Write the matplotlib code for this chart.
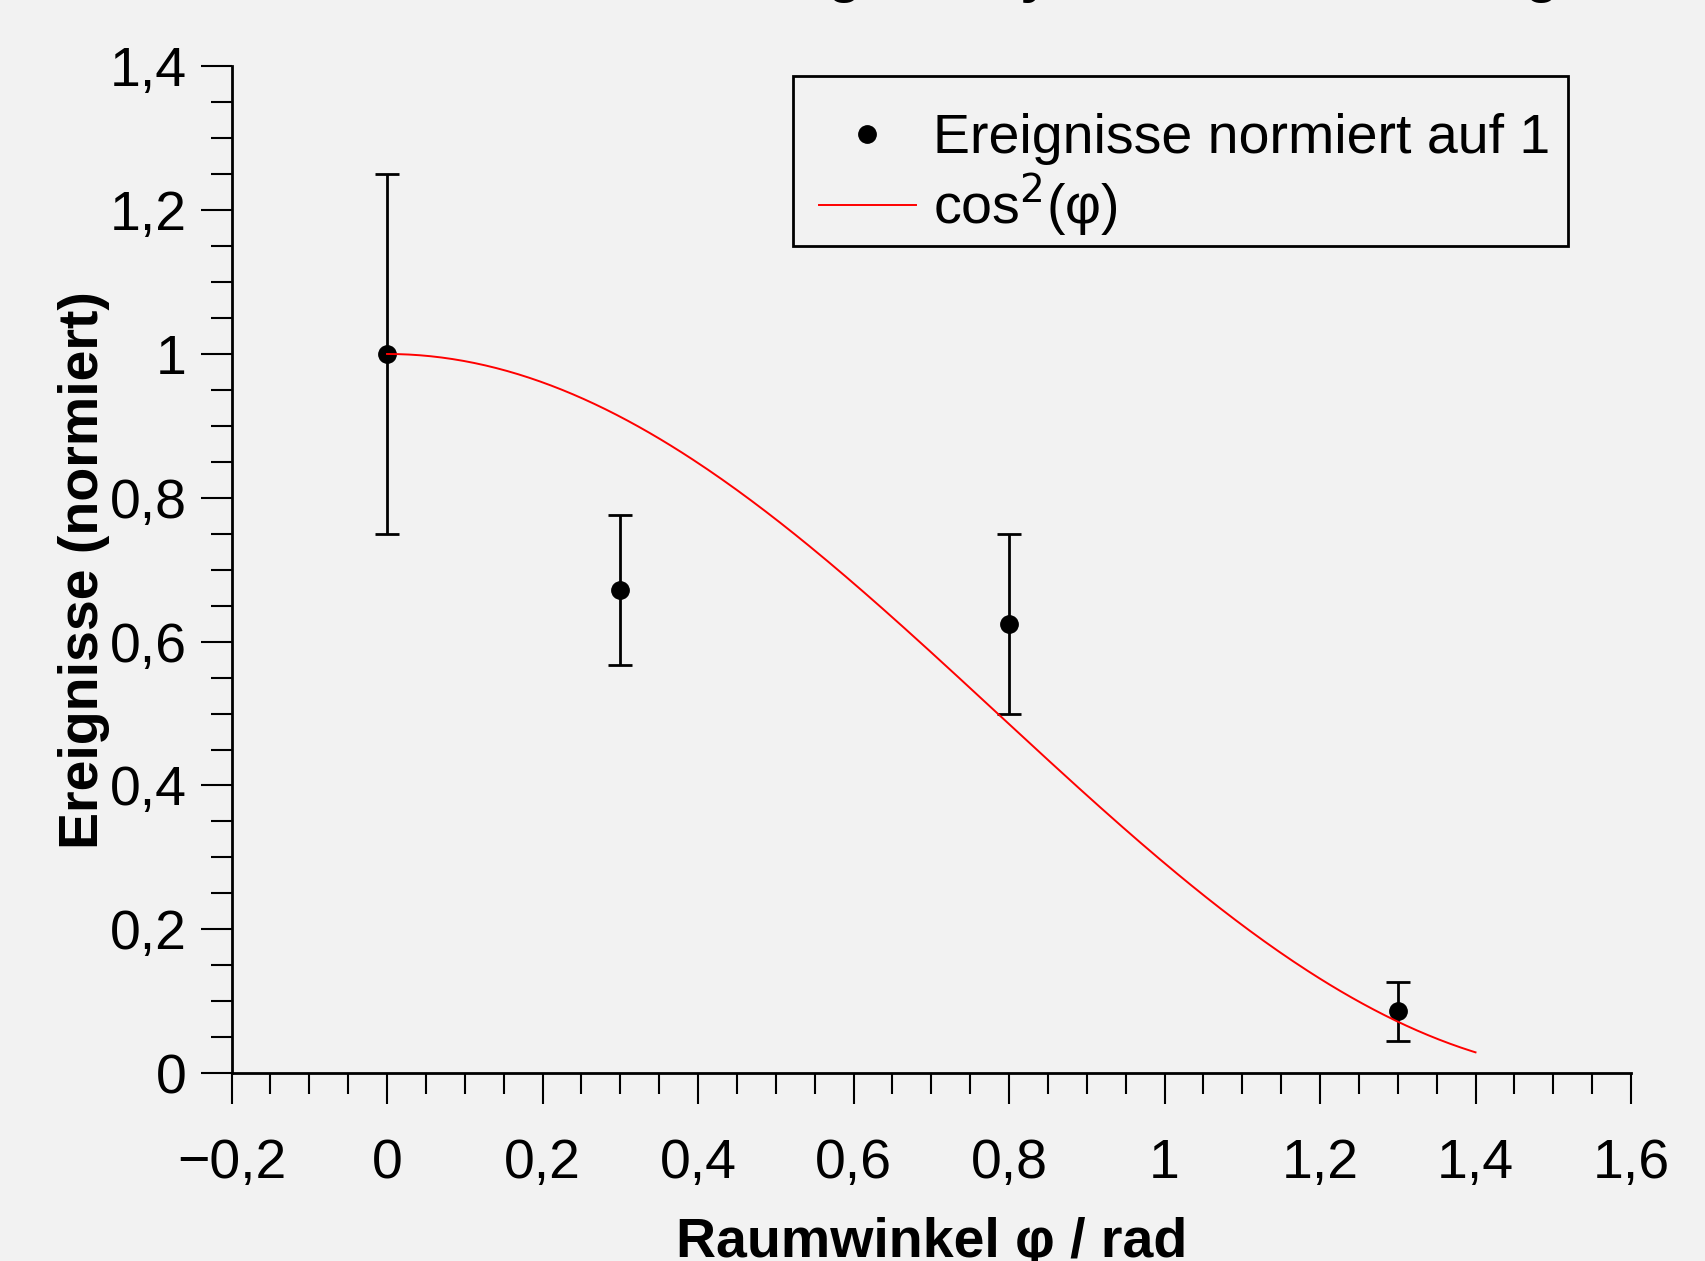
import numpy as np
import matplotlib.pyplot as plt
from matplotlib.lines import Line2D
from matplotlib.patches import Rectangle
from matplotlib.ticker import MultipleLocator, FuncFormatter

# Messwerte
winkel = [0.0, 0.3, 0.8, 1.3]
ereignisse = [1.0, 0.672, 0.625, 0.086]
fehler = [0.25, 0.104, 0.125, 0.041]

phi = np.linspace(0, 1.4, 300)
theorie = np.cos(phi) ** 2

plt.rcParams["font.family"] = ["Liberation Sans", "DejaVu Sans"]
bg = "#f2f2f2"

fig = plt.figure(figsize=(17.05, 12.61), dpi=100, facecolor=bg)
ax = fig.add_axes([0.1358, 0.149, 0.8208, 0.7984], facecolor=bg)

ax.errorbar(winkel, ereignisse, yerr=fehler, fmt="o", color="black", ms=12.5,
            elinewidth=2.0, capsize=8.5, capthick=2.0, zorder=3)
ax.plot(phi, theorie, color="red", lw=1.4, zorder=4)

ax.set_xlim(-0.2, 1.6)
ax.set_ylim(0, 1.4)
ax.xaxis.set_major_locator(MultipleLocator(0.2))
ax.xaxis.set_minor_locator(MultipleLocator(0.05))
ax.yaxis.set_major_locator(MultipleLocator(0.2))
ax.yaxis.set_minor_locator(MultipleLocator(0.05))


def komma(v, pos):
    s = "%g" % round(v, 2)
    return s.replace("-", "\u2212").replace(".", ",")


ax.xaxis.set_major_formatter(FuncFormatter(komma))
ax.yaxis.set_major_formatter(FuncFormatter(komma))

for s in ["top", "right"]:
    ax.spines[s].set_visible(False)
for s in ["left", "bottom"]:
    ax.spines[s].set_linewidth(2)

ax.tick_params(which="major", direction="out", length=22, width=1.5, labelsize=40)
ax.tick_params(which="minor", direction="out", length=15, width=1.5)
ax.tick_params(axis="x", which="major", pad=25)
ax.tick_params(axis="y", which="major", pad=10)

ax.set_xlabel("Raumwinkel φ / rad", fontsize=40, fontweight="bold", labelpad=19)
ax.set_ylabel("Ereignisse (normiert)", fontsize=40, fontweight="bold", labelpad=0)

# Legende ohne eigenen Rahmen, Rahmen separat (Text sitzt im Original tiefer)
handles = [
    Line2D([], [], ls="none", marker="o", color="black", ms=12.5),
    Line2D([], [], color="red", lw=1.4),
]
labels = ["Ereignisse normiert auf 1", r"cos$^2$(φ)"]
leg = ax.legend(handles, labels, loc="upper right", bbox_to_anchor=(0.978, 1.003),
                fontsize=40, frameon=False, handlelength=1.76, borderpad=0.4,
                labelspacing=0.12, handletextpad=0.3)
ax.add_patch(Rectangle((0.401, 0.822), 0.554, 0.168, transform=ax.transAxes,
                       fill=False, edgecolor="black", lw=2, zorder=5, clip_on=False))

fig.text(0.583, 1.006, "Winkelverteilung der Myonen nach Drehung", fontsize=39,
         fontweight="bold", ha="center", va="baseline")

fig.savefig("out.png", dpi=100, facecolor=bg)
